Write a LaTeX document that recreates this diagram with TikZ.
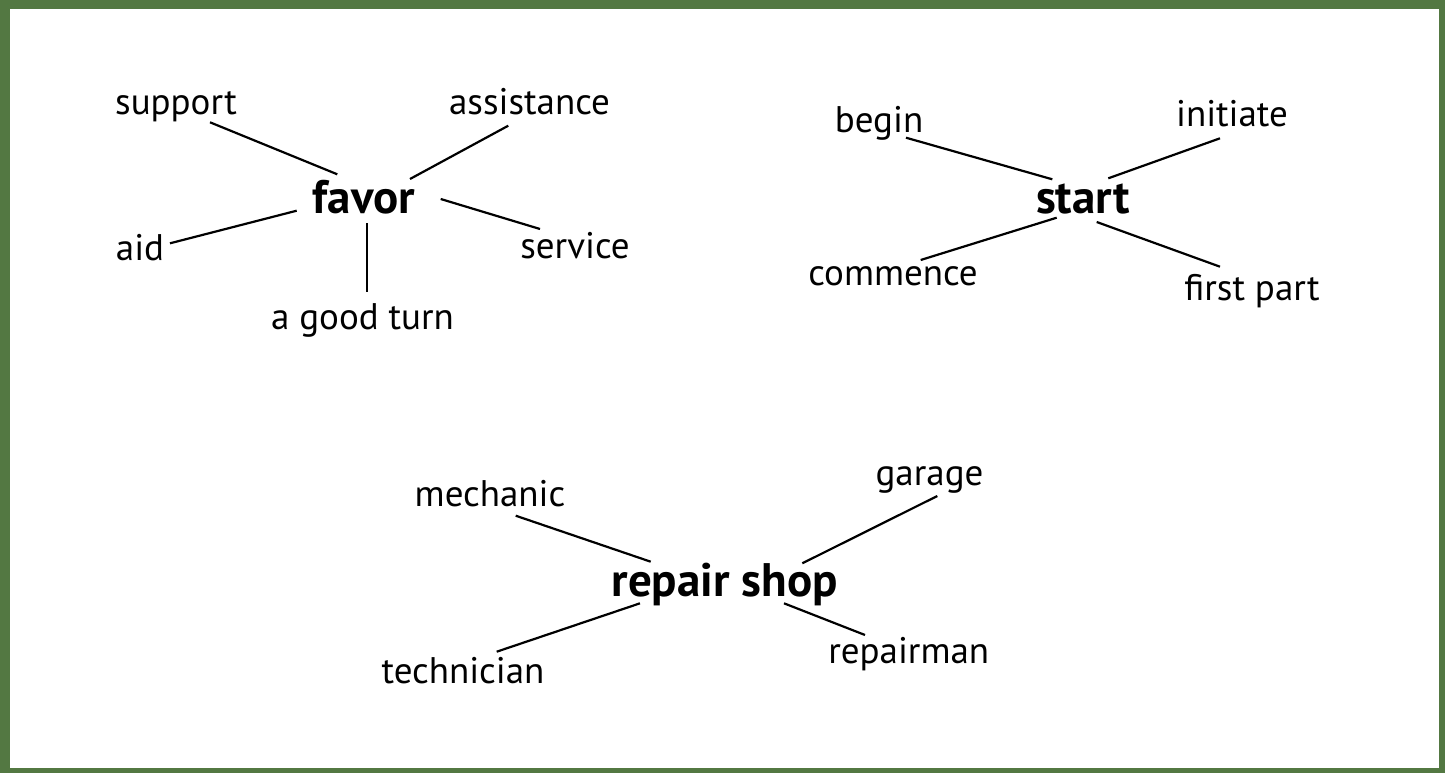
\documentclass[tikz,border=0pt]{standalone}
\usepackage{fontspec}
\setmainfont{PT Sans}
\definecolor{frame}{RGB}{83,120,66}
\tikzset{
  word/.style={anchor=base, inner sep=0pt, font=\fontsize{37}{44}\selectfont},
  hub/.style={anchor=base, inner sep=0pt, font=\fontsize{47}{56}\selectfont\bfseries},
  link/.style={draw=black, line width=2.2pt}
}
\begin{document}
\begin{tikzpicture}[x=1pt,y=-1pt]
\fill[frame] (0,0) rectangle (1445,773);
\fill[white] (10,9) rectangle (1439,768);
\useasboundingbox (0,0) rectangle (1445,773);

% favor cluster
\node[hub]  (favor)    at (364,213.3) {favor};
\node[word] (support)  at (176,114.3) {support};
\node[word] (assist)   at (529.5,115) {assistance};
\node[word] (aid)      at (140,260) {aid};
\node[word] (service)  at (575,258) {service};
\node[word] (goodturn) at (362.5,329) {a good turn};
\coordinate (support-e) at (210,122.3);
\coordinate (favor-nw)  at (337.3,174.3);
\coordinate (assist-e)  at (508.3,125.7);
\coordinate (favor-ne)  at (410,179);
\coordinate (favor-w)   at (296.7,210.7);
\coordinate (aid-e)     at (170,243.3);
\coordinate (favor-e)   at (440.7,199);
\coordinate (service-e) at (540,229);
\coordinate (favor-s)   at (366.7,223.3);
\coordinate (goodturn-e) at (366.7,292.3);
\draw[link] (support-e) -- (favor-nw);
\draw[link] (assist-e) -- (favor-ne);
\draw[link] (favor-w) -- (aid-e);
\draw[link] (favor-e) -- (service-e);
\draw[link] (favor-s) -- (goodturn-e);

% start cluster
\node[hub]  (start)     at (1083,213) {start};
\node[word] (begin)     at (879,132.7) {begin};
\node[word] (initiate)  at (1232,126.7) {initiate};
\node[word] (commence)  at (893,285) {commence};
\node[word] (firstpart) at (1252,300) {first part};
\coordinate (begin-e)     at (906,137.7);
\coordinate (start-nw)    at (1052.3,179.3);
\coordinate (initiate-e)  at (1220,138.3);
\coordinate (start-ne)    at (1108.3,178.3);
\coordinate (start-sw)    at (1056.7,217.7);
\coordinate (commence-e)  at (920.7,260);
\coordinate (start-se)    at (1096.7,222);
\coordinate (firstpart-e) at (1220,266.7);
\draw[link] (begin-e) -- (start-nw);
\draw[link] (initiate-e) -- (start-ne);
\draw[link] (start-sw) -- (commence-e);
\draw[link] (start-se) -- (firstpart-e);

% repair shop cluster
\node[hub]  (repair)     at (724.7,596.7) {repair shop};
\node[word] (mechanic)   at (490,506.7) {mechanic};
\node[word] (garage)     at (929.5,485) {garage};
\node[word] (technician) at (463,683) {technician};
\node[word] (repairman)  at (908.7,663.3) {repairman};
\coordinate (mechanic-e)   at (515.7,515.7);
\coordinate (repair-nw)    at (650.7,561.7);
\coordinate (garage-e)     at (937.3,496);
\coordinate (repair-ne)    at (802.3,563.3);
\coordinate (repair-sw)    at (640,603.3);
\coordinate (technician-e) at (496.7,651.7);
\coordinate (repair-se)    at (784,603.3);
\coordinate (repairman-e)  at (865,635);
\draw[link] (mechanic-e) -- (repair-nw);
\draw[link] (garage-e) -- (repair-ne);
\draw[link] (repair-sw) -- (technician-e);
\draw[link] (repair-se) -- (repairman-e);
\end{tikzpicture}
\end{document}
